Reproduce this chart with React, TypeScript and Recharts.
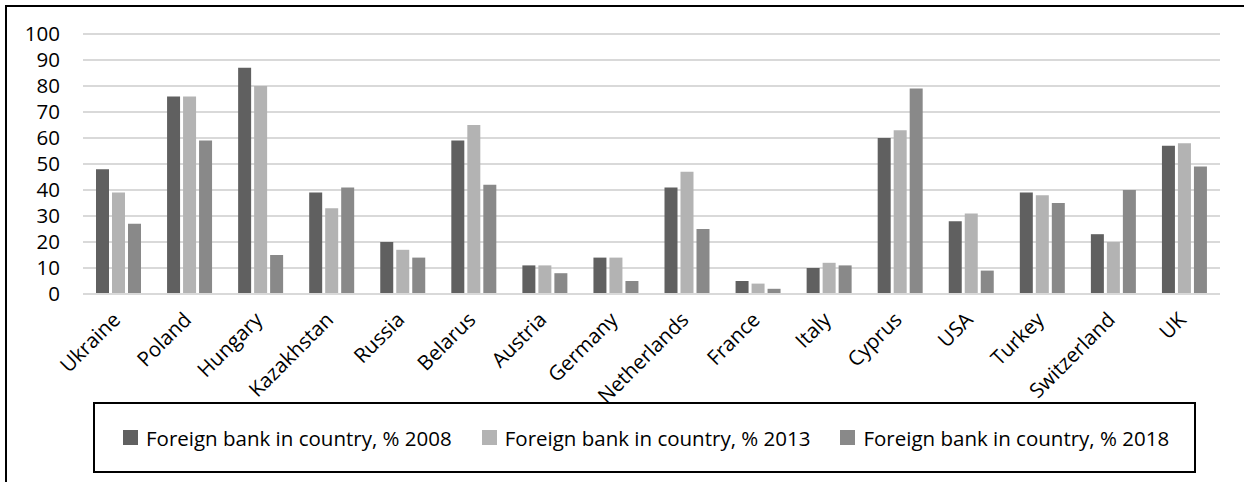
import React from "react";
import { BarChart, Bar, XAxis, YAxis, CartesianGrid, Legend } from "recharts";

const countries = [
  "Ukraine", "Poland", "Hungary", "Kazakhstan", "Russia", "Belarus", "Austria", "Germany",
  "Netherlands", "France", "Italy", "Cyprus", "USA", "Turkey", "Switzerland", "UK",
];
const share2008 = [48, 76, 87, 39, 20, 59, 11, 14, 41, 5, 10, 60, 28, 39, 23, 57];
const share2013 = [39, 76, 80, 33, 17, 65, 11, 14, 47, 4, 12, 63, 31, 38, 20, 58];
const share2018 = [27, 59, 15, 41, 14, 42, 8, 5, 25, 2, 11, 79, 9, 35, 40, 49];
const seriesNames = [
  "Foreign bank in country, % 2008",
  "Foreign bank in country, % 2013",
  "Foreign bank in country, % 2018",
];
const seriesColors = ["#606060", "#b3b3b3", "#898989"];
const yTicks = [0, 10, 20, 30, 40, 50, 60, 70, 80, 90, 100];

const data = countries.map((c, i) => ({
  country: c,
  s2008: share2008[i],
  s2013: share2013[i],
  s2018: share2018[i],
}));
const keys = ["s2008", "s2013", "s2018"];

const FONT = "'Open Sans', sans-serif";
const FONT_SIZE = 20.5;

function RotatedTick(props: any) {
  const { x, y, payload } = props;
  const ax = x + 3;
  const ay = y + 19;
  return (
    <text
      x={ax}
      y={ay}
      textAnchor="end"
      fontFamily={FONT}
      fontSize={FONT_SIZE}
      fill="#000"
      transform={`rotate(-45, ${ax}, ${ay})`}
    >
      {payload.value}
    </text>
  );
}

function LegendBox() {
  return (
    <div
      style={{
        position: "absolute",
        left: 93,
        top: 402,
        width: 1103,
        height: 71,
        border: "2px solid #000",
        display: "flex",
        alignItems: "center",
        paddingLeft: 28,
        boxSizing: "border-box",
        fontFamily: FONT,
        fontSize: FONT_SIZE,
        color: "#000",
        whiteSpace: "nowrap",
      }}
    >
      {seriesNames.map((n, i) => (
        <div key={n} style={{ display: "flex", alignItems: "center", marginRight: 30 }}>
          <span
            style={{ width: 15, height: 15, background: seriesColors[i], display: "inline-block", marginRight: 8 }}
          />
          <span>{n}</span>
        </div>
      ))}
    </div>
  );
}

export default function App() {
  return (
    <div style={{ position: "absolute", left: 0, top: 0, width: 1244, height: 482, overflow: "hidden", background: "#fff" }}>
      <div
        style={{
          position: "absolute",
          left: 5,
          top: 5,
          width: 1260,
          height: 500,
          borderTop: "2px solid #000",
          borderLeft: "2px solid #000",
        }}
      />
      <BarChart
        width={1244}
        height={482}
        data={data}
        margin={{ top: 34, right: 24, bottom: 178, left: 0 }}
        barSize={13}
        barGap={3}
        style={{ position: "absolute", left: 0, top: 0 }}
      >
        <CartesianGrid vertical={false} stroke="#d9d9d9" strokeWidth={2} />
        <XAxis
          dataKey="country"
          interval={0}
          tickLine={false}
          axisLine={{ stroke: "#d9d9d9", strokeWidth: 2 }}
          tick={<RotatedTick />}
          height={10}
        />
        <YAxis
          width={83}
          domain={[0, 100]}
          ticks={yTicks}
          interval={0}
          tickLine={false}
          axisLine={false}
          tickMargin={17}
          tick={{ fontFamily: FONT, fontSize: FONT_SIZE, fill: "#000" }}
        />
        {keys.map((k, i) => (
          <Bar key={k} dataKey={k} name={seriesNames[i]} fill={seriesColors[i]} isAnimationActive={false} />
        ))}
        <Legend content={() => null} />
      </BarChart>
      <LegendBox />
    </div>
  );
}
